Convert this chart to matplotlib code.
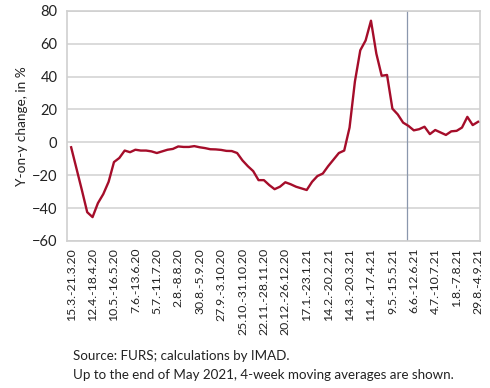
import numpy as np
import matplotlib
matplotlib.use("Agg")
import matplotlib.pyplot as plt

# weekly y-on-y change, 15.3.2020 - 4.9.2021
values = [-3, -16, -29, -42.5, -45.5, -37, -31.5, -24, -12, -9.5,
          -5, -6, -4.5, -5, -5, -5.5, -6.5, -5.5, -4.5, -4,
          -2.5, -2.8, -2.8, -2.3, -3, -3.5, -4.2, -4.3, -4.6, -5.2,
          -5.3, -6.5, -11, -14.5, -17.5, -23, -23, -26, -28.5, -27,
          -24.3, -25.5, -27, -28, -29, -24, -20.5, -19, -14.5, -10.5,
          -6.5, -5, 9, 37, 56, 62, 74, 54, 40.5, 41,
          20.5, 17, 12, 10, 7.3, 8, 9.5, 5, 7.5, 6,
          4.5, 6.7, 7, 9, 15.5, 10.5, 12.5]

week_labels = ["15.3.-21.3.20", "12.4.-18.4.20", "10.5.-16.5.20", "7.6.-13.6.20",
               "5.7.-11.7.20", "2.8.-8.8.20", "30.8.-5.9.20", "27.9.-3.10.20",
               "25.10.-31.10.20", "22.11.-28.11.20", "20.12.-26.12.20", "17.1.-23.1.21",
               "14.2.-20.2.21", "14.3.-20.3.21", "11.4.-17.4.21", "9.5.-15.5.21",
               "6.6.-12.6.21", "4.7.-10.7.21", "1.8.-7.8.21", "29.8.-4.9.21"]

split_week = 62.8  # end of May 2021 (moving averages before this)

plt.rcParams['font.family'] = ['Lato', 'DejaVu Sans']

fig = plt.figure(figsize=(4.9, 3.88), dpi=100)
ax = fig.add_axes([0.137, 0.379, 0.843, 0.593])

x = np.arange(len(values))
ax.plot(x, values, color='#A50D2A', linewidth=1.7, zorder=3)
ax.axvline(split_week, color='#8A97AD', linewidth=0.9, zorder=2)

ax.set_xlim(-0.75, len(values) - 0.6)
ax.set_ylim(-60, 80)
ax.set_yticks(range(-60, 81, 20))
ax.set_xticks(range(0, len(values), 4))
ax.set_xticklabels(week_labels, rotation=90, fontsize=8.8, color='#222222')
ax.tick_params(axis='y', labelsize=10.5, colors='#222222', length=0, pad=7)
ax.tick_params(axis='x', length=0, pad=5)

ax.grid(axis='y', color='#D4D4D4', linewidth=1.2)
ax.set_axisbelow(True)
for s in ax.spines.values():
    s.set_color('#D0D0D0')
    s.set_linewidth(1.2)

ax.set_ylabel('Y-on-y change, in %', fontsize=9.8, color='#222222', labelpad=3)

fig.text(0.149, 0.072, 'Source: FURS; calculations by IMAD.', fontsize=9.6, color='#222222')
fig.text(0.149, 0.022, 'Up to the end of May 2021, 4-week moving averages are shown.',
         fontsize=9.6, color='#222222')

fig.savefig('out.png', dpi=100)
